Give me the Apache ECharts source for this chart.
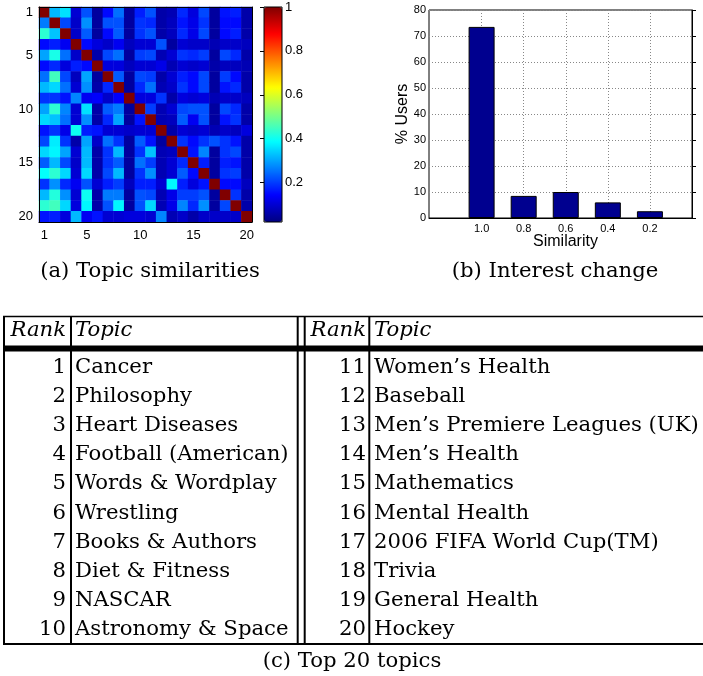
<!DOCTYPE html>
<html><head><meta charset="utf-8">
<script src="https://cdn.jsdelivr.net/npm/echarts@6/dist/echarts.min.js"></script>
<style>html,body{margin:0;padding:0;background:#fff}#c{width:703px;height:676px}</style>
</head><body><div id="c"></div>
<script>
// ---------- data ----------
const topicIds = ['1','2','3','4','5','6','7','8','9','10','11','12','13','14','15','16','17','18','19','20'];
const shownTopicTicks = ['1','5','10','15','20'];
const similarity = [
 [1,0.32,0.36,0.10,0.22,0.05,0.15,0.25,0.05,0.17,0.22,0.06,0.07,0.18,0.11,0.21,0.05,0.16,0.17,0.06],
 [0.26,1,0.21,0.09,0.28,0.05,0.22,0.22,0.05,0.19,0.18,0.06,0.08,0.16,0.12,0.19,0.05,0.15,0.15,0.06],
 [0.43,0.33,1,0.09,0.23,0.05,0.15,0.23,0.05,0.19,0.22,0.06,0.08,0.18,0.12,0.21,0.05,0.15,0.17,0.06],
 [0.15,0.17,0.13,1,0.15,0.11,0.09,0.13,0.08,0.10,0.10,0.22,0.05,0.10,0.09,0.09,0.07,0.09,0.09,0.08],
 [0.30,0.41,0.25,0.09,1,0.06,0.21,0.25,0.05,0.20,0.21,0.07,0.10,0.19,0.18,0.20,0.05,0.21,0.18,0.06],
 [0.15,0.18,0.11,0.17,0.15,1,0.11,0.11,0.08,0.10,0.10,0.12,0.07,0.10,0.09,0.10,0.06,0.08,0.08,0.07],
 [0.25,0.45,0.21,0.08,0.30,0.05,1,0.23,0.05,0.21,0.20,0.06,0.10,0.17,0.15,0.21,0.05,0.20,0.15,0.06],
 [0.32,0.35,0.25,0.10,0.28,0.06,0.18,1,0.05,0.18,0.25,0.07,0.09,0.19,0.15,0.21,0.05,0.16,0.18,0.06],
 [0.19,0.19,0.16,0.27,0.13,0.14,0.09,0.14,1,0.11,0.11,0.19,0.06,0.11,0.10,0.11,0.07,0.09,0.09,0.08],
 [0.30,0.43,0.27,0.10,0.36,0.06,0.23,0.26,0.05,1,0.20,0.07,0.10,0.21,0.22,0.22,0.05,0.21,0.18,0.06],
 [0.35,0.33,0.25,0.10,0.28,0.06,0.18,0.30,0.05,0.16,1,0.07,0.08,0.23,0.13,0.22,0.05,0.16,0.19,0.06],
 [0.16,0.19,0.12,0.40,0.17,0.16,0.10,0.10,0.09,0.10,0.10,1,0.06,0.10,0.09,0.10,0.07,0.09,0.08,0.11],
 [0.21,0.37,0.19,0.06,0.30,0.09,0.25,0.19,0.05,0.23,0.16,0.05,1,0.19,0.15,0.19,0.22,0.19,0.16,0.06],
 [0.35,0.38,0.30,0.10,0.32,0.06,0.19,0.32,0.05,0.19,0.33,0.07,0.08,1,0.16,0.27,0.05,0.19,0.21,0.06],
 [0.23,0.32,0.21,0.09,0.32,0.06,0.19,0.23,0.05,0.25,0.20,0.07,0.10,0.18,1,0.17,0.05,0.17,0.16,0.06],
 [0.39,0.43,0.35,0.10,0.35,0.06,0.21,0.32,0.05,0.19,0.28,0.07,0.10,0.23,0.15,1,0.05,0.19,0.20,0.06],
 [0.19,0.28,0.18,0.13,0.22,0.10,0.17,0.20,0.08,0.17,0.17,0.10,0.38,0.17,0.11,0.16,1,0.15,0.15,0.08],
 [0.32,0.42,0.28,0.10,0.40,0.06,0.26,0.26,0.05,0.22,0.21,0.07,0.12,0.20,0.20,0.22,0.05,1,0.19,0.06],
 [0.43,0.45,0.35,0.11,0.38,0.06,0.22,0.38,0.05,0.22,0.35,0.07,0.12,0.27,0.18,0.28,0.05,0.21,1,0.06],
 [0.16,0.17,0.11,0.32,0.13,0.16,0.10,0.10,0.11,0.11,0.10,0.27,0.07,0.09,0.06,0.09,0.09,0.09,0.09,1]
];
const colorbarMin = 0.02, colorbarMax = 1;
const colorbarTicks = [0.2, 0.4, 0.6, 0.8, 1];
const similarityLevels = [1.0, 0.8, 0.6, 0.4, 0.2];
const userPct = [73.5, 8.5, 10.0, 6.0, 2.6];
const ranksLeft = [1,2,3,4,5,6,7,8,9,10];
const topicsLeft = ['Cancer','Philosophy','Heart Diseases','Football (American)','Words & Wordplay','Wrestling','Books & Authors','Diet & Fitness','NASCAR','Astronomy & Space'];
const ranksRight = [11,12,13,14,15,16,17,18,19,20];
const topicsRight = ['Women\u2019s Health','Baseball','Men\u2019s Premiere Leagues (UK)','Men\u2019s Health','Mathematics','Mental Health','2006 FIFA World Cup(TM)','Trivia','General Health','Hockey'];
const captions = ['(a) Topic similarities', '(b) Interest change', '(c) Top 20 topics'];

// ---------- build ----------
const jet = ['#000080','#0000ff','#0080ff','#00ffff','#80ff80','#ffff00','#ff8000','#ff0000','#800000'];
const heatData = [];
similarity.forEach((row, r) => row.forEach((v, c) => heatData.push([c, r, v])));
const showTick = (i, v) => shownTopicTicks.includes(v);
const SANS = "'Liberation Sans', Arial, Helvetica, sans-serif";
const SERIF = "'DejaVu Serif', serif";
const black = {color: '#000', width: 1};
const FS = 21.2;

const graphics = [];
const tL = 3, tR = 720, tTop = 316.5, tBot = 644, headY = 330, rowY0 = 367.5, rowStep = 29.1;
const vlines = [4, 71, 297.7, 304.7, 369.3];
graphics.push({type:'line', shape:{x1:tL, y1:tTop, x2:tR, y2:tTop}, style:{stroke:'#000', lineWidth:1.5}});
graphics.push({type:'rect', shape:{x:tL, y:345.5, width:tR-tL, height:6}, style:{fill:'#000'}});
graphics.push({type:'line', shape:{x1:tL, y1:tBot, x2:tR, y2:tBot}, style:{stroke:'#000', lineWidth:2}});
vlines.forEach(x => graphics.push({type:'line', shape:{x1:x, y1:tTop, x2:x, y2:tBot+1}, style:{stroke:'#000', lineWidth:2}}));
const txt = (s, x, y, align, italic, size) => ({type:'text', x, y, style:{text:s, fill:'#000', align, verticalAlign:'middle', font:(italic?'italic ':'') + (size||FS) + 'px ' + SERIF}});
graphics.push(txt('Rank', 66, headY, 'right', true));
graphics.push(txt('Topic', 75, headY, 'left', true));
graphics.push(txt('Rank', 366, headY, 'right', true));
graphics.push(txt('Topic', 374, headY, 'left', true));
ranksLeft.forEach((r, i) => {
  graphics.push(txt(String(r), 66, rowY0 + i*rowStep, 'right'));
  graphics.push(txt(topicsLeft[i], 75, rowY0 + i*rowStep, 'left'));
});
ranksRight.forEach((r, i) => {
  graphics.push(txt(String(r), 366, rowY0 + i*rowStep, 'right'));
  graphics.push(txt(topicsRight[i], 374, rowY0 + i*rowStep, 'left'));
});
graphics.push(txt(captions[0], 150, 271, 'center', false, FS));
graphics.push(txt(captions[1], 555, 271, 'center', false, FS));
graphics.push(txt(captions[2], 352, 661, 'center', false, FS));

const chart = echarts.init(document.getElementById('c'), null, {renderer:'canvas'});
chart.setOption({
  animation: false,
  backgroundColor: '#fff',
  textStyle: {fontFamily: SANS, color: '#000'},
  grid: [
    {left: 39, top: 7, width: 213, height: 215},
    {left: 429, top: 10, width: 263, height: 208, show: true, borderColor: '#000', borderWidth: 1},
    {left: 264, top: 7, width: 18, height: 215, show: true, borderColor: '#000', borderWidth: 1, z: 10}
  ],
  visualMap: {
    type: 'continuous', seriesIndex: 0, min: colorbarMin, max: colorbarMax,
    left: 264, top: 7, itemWidth: 18, itemHeight: 215, padding: 0,
    calculable: false, inRange: {color: jet}, textStyle: {fontSize: 0}
  },
  xAxis: [
    {gridIndex: 0, type: 'category', data: topicIds, position: 'bottom', z: 10,
     axisLine: {lineStyle: black}, splitLine: {show: false},
     axisTick: {alignWithLabel: true, interval: showTick, inside: true, length: 3, lineStyle: black},
     axisLabel: {interval: showTick, fontSize: 13, margin: 7, color: '#000', fontFamily: SANS}},
    {gridIndex: 0, type: 'category', data: topicIds, position: 'top', z: 10,
     axisLine: {lineStyle: black}, axisLabel: {show: false},
     axisTick: {alignWithLabel: true, interval: showTick, inside: true, length: 3, lineStyle: black}},
    {gridIndex: 1, type: 'value', inverse: true, min: 0, max: 1.25,
     axisLine: {lineStyle: black},
     axisTick: {customValues: similarityLevels, inside: true, length: 4, lineStyle: black},
     axisLabel: {customValues: similarityLevels, formatter: v => v.toFixed(1), fontSize: 11, margin: 5, color: '#000', fontFamily: SANS},
     splitLine: {show: true, lineStyle: {color: '#888', type: [1, 2], width: 1}},
     name: 'Similarity', nameLocation: 'middle', nameGap: 16, nameMoveOverlap: false,
     nameTextStyle: {fontSize: 16, color: '#000', fontFamily: SANS, padding: [0, 0, 0, 10]}},
    {gridIndex: 2, type: 'value', show: false}
  ],
  yAxis: [
    {gridIndex: 0, type: 'category', data: topicIds, inverse: true, position: 'left', z: 10,
     axisLine: {lineStyle: black}, splitLine: {show: false},
     axisTick: {alignWithLabel: true, interval: showTick, inside: true, length: 3, lineStyle: black},
     axisLabel: {interval: showTick, fontSize: 13, margin: 6, color: '#000', fontFamily: SANS}},
    {gridIndex: 0, type: 'category', data: topicIds, inverse: true, position: 'right', z: 10,
     axisLine: {lineStyle: black}, axisLabel: {show: false},
     axisTick: {alignWithLabel: true, interval: showTick, inside: true, length: 3, lineStyle: black}},
    {gridIndex: 1, type: 'value', min: 0, max: 80, interval: 10,
     axisLine: {lineStyle: black},
     axisTick: {inside: true, length: 4, lineStyle: black},
     axisLabel: {fontSize: 11, margin: 3, color: '#000', fontFamily: SANS},
     splitLine: {show: true, lineStyle: {color: '#888', type: [1, 2], width: 1}},
     name: '% Users', nameLocation: 'middle', nameGap: 18, nameMoveOverlap: false,
     nameTextStyle: {fontSize: 16, color: '#000', fontFamily: SANS}},
    {gridIndex: 2, type: 'value', position: 'right', min: colorbarMin, max: colorbarMax, z: 10,
     axisLine: {show: false}, splitLine: {show: false},
     axisTick: {customValues: colorbarTicks, inside: true, length: 4, lineStyle: black},
     axisLabel: {customValues: colorbarTicks, fontSize: 13, margin: 3, color: '#000', fontFamily: SANS,
                 formatter: v => String(v)}}
  ],
  series: [
    {type: 'heatmap', xAxisIndex: 0, yAxisIndex: 0, data: heatData, progressive: 0,
     itemStyle: {borderWidth: 0}, emphasis: {disabled: true}},
    {type: 'bar', xAxisIndex: 2, yAxisIndex: 2,
     data: similarityLevels.map((s, i) => [s, userPct[i]]), barWidth: 26,
     itemStyle: {color: '#00008f', borderColor: '#000', borderWidth: 1}}
  ],
  graphic: graphics
});
</script>
</body></html>
